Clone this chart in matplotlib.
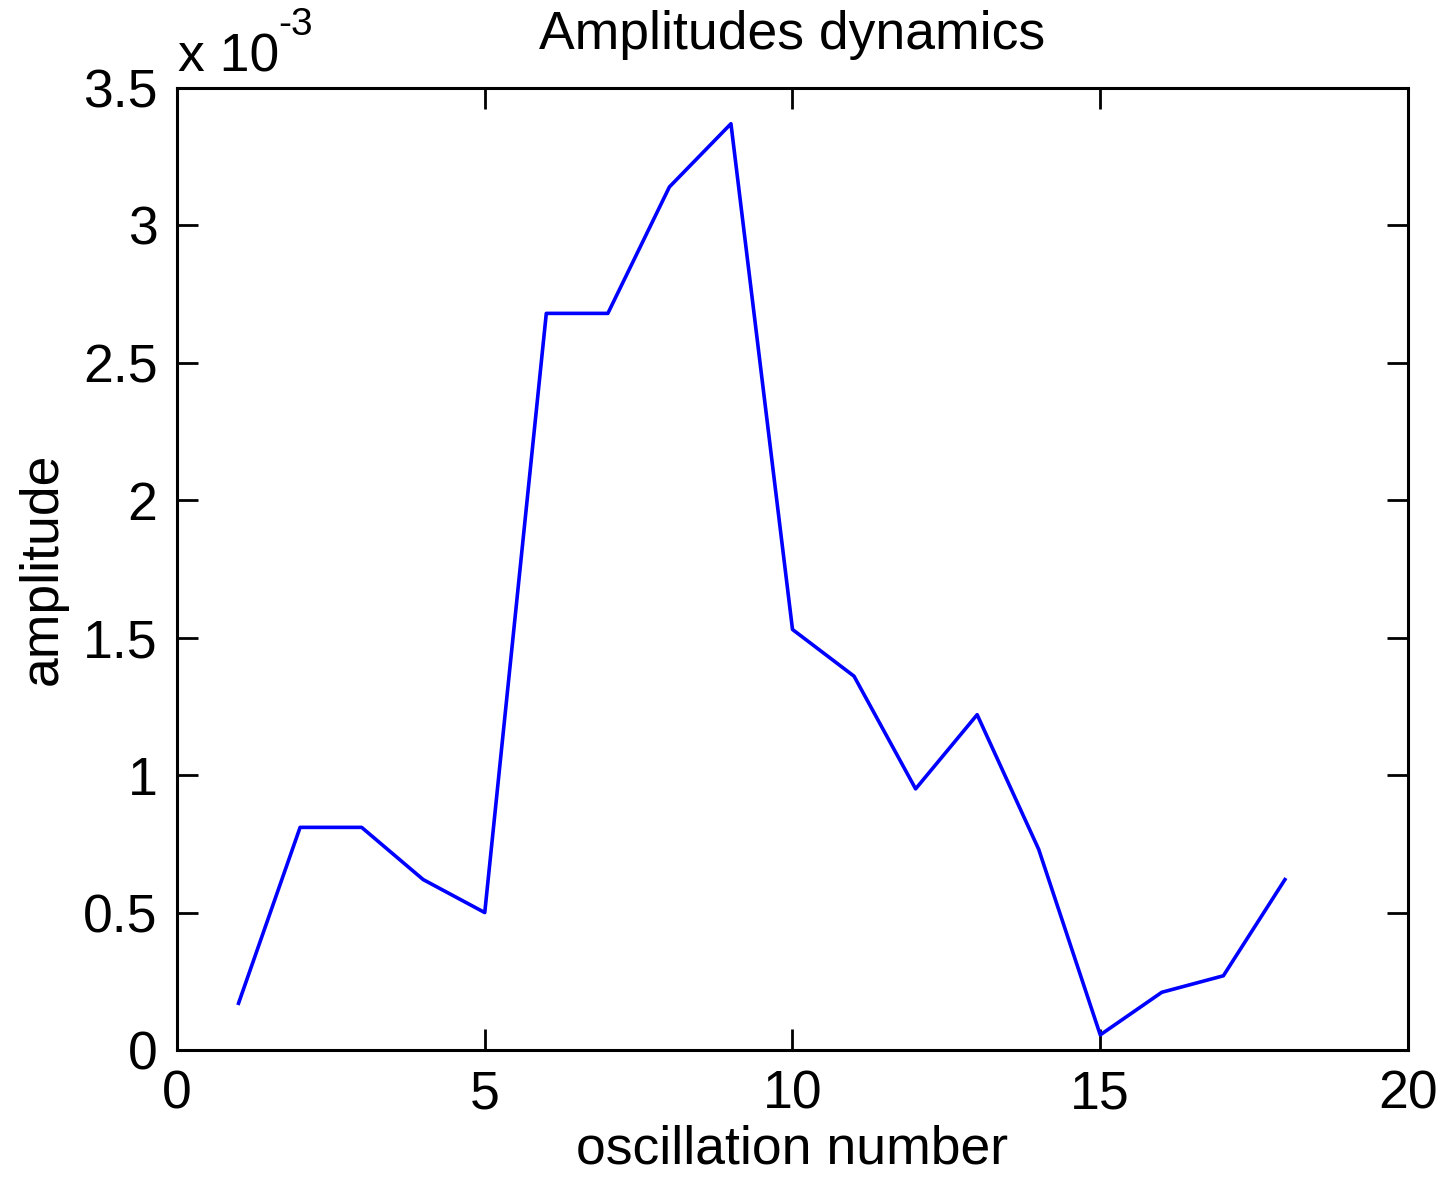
import matplotlib
matplotlib.use("Agg")
import matplotlib.pyplot as plt

# amplitude values, in units of 1e-3
oscillation = list(range(1, 19))
amplitude = [0.17, 0.81, 0.81, 0.62, 0.50, 2.68, 2.68, 3.14, 3.37,
             1.53, 1.36, 0.95, 1.22, 0.73, 0.055, 0.21, 0.27, 0.62]
x_ticks = [0, 5, 10, 15, 20]
y_ticks = [0, 0.5, 1, 1.5, 2, 2.5, 3, 3.5]
y_tick_labels = ['0', '0.5', '1', '1.5', '2', '2.5', '3', '3.5']

plt.rcParams['font.family'] = ['Liberation Sans', 'DejaVu Sans']
fs = 38.5

fig = plt.figure(figsize=(14.43, 11.77), dpi=100)
ax = fig.add_axes([177 / 1443, 1 - 1050 / 1177, (1408 - 177) / 1443, (1050 - 88) / 1177])

ax.plot(oscillation, amplitude, color='#0000ff', linewidth=2.6)

ax.set_xlim(0, 20)
ax.set_ylim(0, 3.5)
ax.set_xticks(x_ticks)
ax.set_yticks(y_ticks)
ax.set_yticklabels(y_tick_labels)
ax.tick_params(direction='in', length=15, width=2, labelsize=fs,
               top=True, right=True, pad=14)
for s in ax.spines.values():
    s.set_linewidth(2.2)

ax.set_title('Amplitudes dynamics', fontsize=fs, pad=28)
ax.set_xlabel('oscillation number', fontsize=fs, labelpad=4)
ax.set_ylabel('amplitude', fontsize=fs, labelpad=11)

fig.text(178 / 1443, 1 - 71 / 1177, 'x 10', fontsize=fs, ha='left', va='baseline')
fig.text(278 / 1443, 1 - 35 / 1177, '-3', fontsize=28, ha='left', va='baseline')

fig.savefig('out.png', dpi=100)
